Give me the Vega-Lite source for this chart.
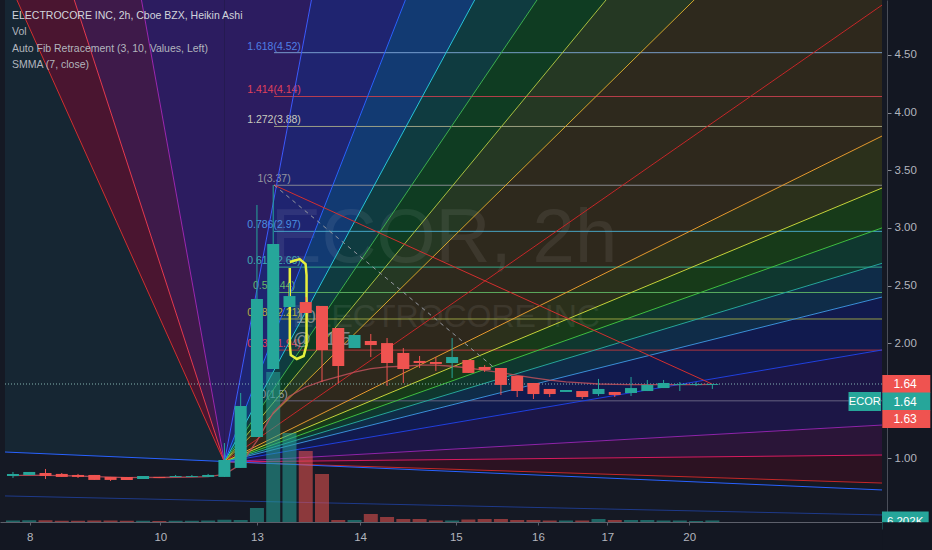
{
  "$schema": "https://vega.github.io/schema/vega-lite/v6.json",
  "width": 887,
  "height": 522,
  "autosize": {"type": "none"},
  "padding": {"left": 0, "top": 0, "right": 45, "bottom": 28},
  "background": "#131722",
  "config": {"view": {"stroke": null, "fill": "#151924"}, "font": "Liberation Sans, Arial, sans-serif"},
  "datasets": {
    "candles": [
      {"n":0,"o":0.848,"c":0.866,"h":0.883,"l":0.831,"v":6000,"s":0.852},
      {"n":1,"o":0.857,"c":0.883,"h":0.883,"l":0.857,"v":7000,"s":0.855},
      {"n":2,"o":0.874,"c":0.848,"h":0.909,"l":0.822,"v":7000,"s":0.854},
      {"n":3,"o":0.866,"c":0.840,"h":0.874,"l":0.840,"v":5000,"s":0.851},
      {"n":4,"o":0.857,"c":0.840,"h":0.866,"l":0.831,"v":5000,"s":0.848},
      {"n":5,"o":0.857,"c":0.814,"h":0.857,"l":0.814,"v":6000,"s":0.842},
      {"n":6,"o":0.840,"c":0.814,"h":0.840,"l":0.805,"v":6000,"s":0.838},
      {"n":7,"o":0.840,"c":0.814,"h":0.840,"l":0.814,"v":5000,"s":0.834},
      {"n":8,"o":0.822,"c":0.848,"h":0.848,"l":0.822,"v":5000,"s":0.836},
      {"n":9,"o":0.840,"c":0.831,"h":0.840,"l":0.831,"v":4000,"s":0.835},
      {"n":10,"o":0.840,"c":0.848,"h":0.857,"l":0.840,"v":5000,"s":0.837},
      {"n":11,"o":0.840,"c":0.848,"h":0.857,"l":0.840,"v":5000,"s":0.839},
      {"n":12,"o":0.840,"c":0.857,"h":0.866,"l":0.840,"v":6000,"s":0.842},
      {"n":13,"o":0.840,"c":0.987,"h":1.134,"l":0.840,"v":9000,"s":0.863},
      {"n":14,"o":0.918,"c":1.455,"h":1.568,"l":0.918,"v":8000,"s":0.948},
      {"n":15,"o":1.186,"c":2.383,"h":3.199,"l":1.186,"v":56000,"s":1.153},
      {"n":16,"o":1.776,"c":2.860,"h":3.372,"l":1.776,"v":600000,"s":1.397},
      {"n":17,"o":2.314,"c":2.409,"h":2.522,"l":2.314,"v":356000,"s":1.54},
      {"n":18,"o":2.357,"c":2.262,"h":2.40,"l":2.262,"v":284000,"s":1.62},
      {"n":19,"o":2.323,"c":1.941,"h":2.323,"l":1.663,"v":192000,"s":1.67},
      {"n":20,"o":2.132,"c":1.802,"h":2.132,"l":1.655,"v":8000,"s":1.71},
      {"n":21,"o":1.958,"c":2.071,"h":2.071,"l":1.958,"v":8000,"s":1.75},
      {"n":22,"o":2.019,"c":1.984,"h":2.080,"l":1.880,"v":32000,"s":1.78},
      {"n":23,"o":2.001,"c":1.828,"h":2.045,"l":1.629,"v":20000,"s":1.795},
      {"n":24,"o":1.915,"c":1.776,"h":1.958,"l":1.655,"v":12000,"s":1.80},
      {"n":25,"o":1.846,"c":1.828,"h":1.889,"l":1.785,"v":12000,"s":1.81},
      {"n":26,"o":1.837,"c":1.820,"h":1.880,"l":1.759,"v":6000,"s":1.81},
      {"n":27,"o":1.828,"c":1.880,"h":2.045,"l":1.698,"v":6000,"s":1.80},
      {"n":28,"o":1.854,"c":1.742,"h":1.854,"l":1.742,"v":10000,"s":1.785},
      {"n":29,"o":1.794,"c":1.768,"h":1.81,"l":1.75,"v":12000,"s":1.765},
      {"n":30,"o":1.785,"c":1.638,"h":1.785,"l":1.551,"v":12000,"s":1.745},
      {"n":31,"o":1.716,"c":1.585,"h":1.716,"l":1.533,"v":8000,"s":1.72},
      {"n":32,"o":1.655,"c":1.559,"h":1.655,"l":1.516,"v":8000,"s":1.70},
      {"n":33,"o":1.603,"c":1.559,"h":1.603,"l":1.533,"v":6000,"s":1.68},
      {"n":34,"o":1.577,"c":1.594,"h":1.594,"l":1.577,"v":6000,"s":1.665},
      {"n":35,"o":1.585,"c":1.533,"h":1.585,"l":1.516,"v":6000,"s":1.655},
      {"n":36,"o":1.559,"c":1.603,"h":1.690,"l":1.542,"v":12000,"s":1.646},
      {"n":37,"o":1.577,"c":1.551,"h":1.577,"l":1.533,"v":8000,"s":1.642},
      {"n":38,"o":1.568,"c":1.611,"h":1.707,"l":1.542,"v":8000,"s":1.64},
      {"n":39,"o":1.585,"c":1.638,"h":1.681,"l":1.585,"v":8000,"s":1.64},
      {"n":40,"o":1.611,"c":1.655,"h":1.681,"l":1.611,"v":6000,"s":1.64},
      {"n":41,"o":1.638,"c":1.646,"h":1.663,"l":1.585,"v":6000,"s":1.641},
      {"n":42,"o":1.638,"c":1.646,"h":1.663,"l":1.629,"v":4000,"s":1.641},
      {"n":43,"o":1.638,"c":1.646,"h":1.646,"l":1.603,"v":6202,"s":1.642}
    ],
    "wedge": [
      {"w":"w01","n":13,"lo":0.97,"hi":40},{"w":"w01","n":53.43,"lo":31.25,"hi":40},
      {"w":"w01b","n":-0.49,"lo":11.57,"hi":40},{"w":"w01b","n":13,"lo":0.97,"hi":40},
      {"w":"w02","n":13,"lo":0.97,"hi":0.97},{"w":"w02","n":53.43,"lo":15.53,"hi":31.25},
      {"w":"w03","n":13,"lo":0.97,"hi":0.97},{"w":"w03","n":53.43,"lo":11.50,"hi":15.53},
      {"w":"w04","n":13,"lo":0.97,"hi":0.97},{"w":"w04","n":53.43,"lo":9.40,"hi":11.50},
      {"w":"w05","n":13,"lo":0.97,"hi":0.97},{"w":"w05","n":53.43,"lo":7.875,"hi":9.40},
      {"w":"w06","n":13,"lo":0.97,"hi":0.97},{"w":"w06","n":53.43,"lo":6.58,"hi":7.875},
      {"w":"w07","n":13,"lo":0.97,"hi":0.97},{"w":"w07","n":53.43,"lo":4.933,"hi":6.58},
      {"w":"w08","n":13,"lo":0.97,"hi":0.97},{"w":"w08","n":53.43,"lo":3.797,"hi":4.933},
      {"w":"w09","n":13,"lo":0.97,"hi":0.97},{"w":"w09","n":53.43,"lo":3.346,"hi":3.797},
      {"w":"w10","n":13,"lo":0.97,"hi":0.97},{"w":"w10","n":53.43,"lo":3.0,"hi":3.346},
      {"w":"w11","n":13,"lo":0.97,"hi":0.97},{"w":"w11","n":53.43,"lo":2.693,"hi":3.0},
      {"w":"w12","n":13,"lo":0.97,"hi":0.97},{"w":"w12","n":53.43,"lo":2.40,"hi":2.693},
      {"w":"w13","n":13,"lo":0.97,"hi":0.97},{"w":"w13","n":53.43,"lo":1.941,"hi":2.40},
      {"w":"w14","n":13,"lo":0.97,"hi":0.97},{"w":"w14","n":53.43,"lo":1.29,"hi":1.941},
      {"w":"w15","n":13,"lo":0.97,"hi":0.97},{"w":"w15","n":53.43,"lo":1.03,"hi":1.29},
      {"w":"w16","n":13,"lo":0.97,"hi":0.97},{"w":"w16","n":53.43,"lo":0.787,"hi":1.03},
      {"w":"w17","n":-0.49,"lo":6.826,"hi":11.57},{"w":"w17","n":13,"lo":0.97,"hi":0.97},
      {"w":"w18","n":-0.49,"lo":5.207,"hi":6.826},{"w":"w18","n":13,"lo":0.97,"hi":0.97},
      {"w":"w19","n":-0.49,"lo":1.056,"hi":5.207},{"w":"w19","n":13,"lo":0.97,"hi":0.97}
    ],
    "fan": [
      {"id":"s01","a":13,"pa":0.97,"b":53.43,"pb":31.25},
      {"id":"s02","a":13,"pa":0.97,"b":53.43,"pb":15.53},
      {"id":"s03","a":13,"pa":0.97,"b":53.43,"pb":11.50},
      {"id":"s04","a":13,"pa":0.97,"b":53.43,"pb":9.40},
      {"id":"s05","a":13,"pa":0.97,"b":53.43,"pb":7.875},
      {"id":"s06","a":13,"pa":0.97,"b":53.43,"pb":6.58},
      {"id":"s07","a":13,"pa":0.97,"b":53.43,"pb":4.933},
      {"id":"s08","a":13,"pa":0.97,"b":53.43,"pb":3.797},
      {"id":"s09","a":13,"pa":0.97,"b":53.43,"pb":3.346},
      {"id":"s10","a":13,"pa":0.97,"b":53.43,"pb":3.0},
      {"id":"s11","a":13,"pa":0.97,"b":53.43,"pb":2.693},
      {"id":"s12","a":13,"pa":0.97,"b":53.43,"pb":2.40},
      {"id":"s13","a":13,"pa":0.97,"b":53.43,"pb":1.941},
      {"id":"s14","a":13,"pa":0.97,"b":53.43,"pb":1.29},
      {"id":"s15","a":13,"pa":0.97,"b":53.43,"pb":1.03},
      {"id":"s16","a":13,"pa":0.97,"b":53.43,"pb":0.787},
      {"id":"l1","a":13,"pa":0.97,"b":-0.49,"pb":5.207},
      {"id":"l2","a":13,"pa":0.97,"b":-0.49,"pb":6.826},
      {"id":"l3","a":13,"pa":0.97,"b":-0.49,"pb":11.57},
      {"id":"r1","a":16.05,"pa":3.372,"b":42.98,"pb":1.646},
      {"id":"t1","a":-0.49,"pa":1.056,"b":53.43,"pb":0.727},
      {"id":"t2","a":-0.49,"pa":0.675,"b":53.43,"pb":0.51}
    ],
    "fib": [
      {"k":"1.618","p":4.52,"t":"1.618(4.52)"},
      {"k":"1.414","p":4.14,"t":"1.414(4.14)"},
      {"k":"1.272","p":3.88,"t":"1.272(3.88)"},
      {"k":"1","p":3.37,"t":"1(3.37)"},
      {"k":"0.786","p":2.97,"t":"0.786(2.97)"},
      {"k":"0.618","p":2.66,"t":"0.618(2.66)"},
      {"k":"0.5","p":2.44,"t":"0.5(2.44)"},
      {"k":"0.382","p":2.21,"t":"0.382(2.21)"},
      {"k":"0.236","p":1.94,"t":"0.236(1.94)"},
      {"k":"0","p":1.5,"t":"0(1.5)"}
    ],
    "loop": [
      {"i":0,"n":17.02,"p":2.704},{"i":1,"n":17.63,"p":2.730},{"i":2,"n":17.99,"p":2.687},
      {"i":3,"n":18.05,"p":2.591},{"i":4,"n":18.05,"p":1.984},{"i":5,"n":17.87,"p":1.889},
      {"i":6,"n":17.45,"p":1.863},{"i":7,"n":17.08,"p":1.898},{"i":8,"n":17.02,"p":1.984},
      {"i":9,"n":17.02,"p":2.652}
    ],
    "tags": [
      {"t":"1.64","p":1.646,"s":"a"},
      {"t":"1.64","p":1.646,"s":"b"},
      {"t":"1.63","p":1.634,"s":"c"},
      {"t":"ECOR","p":1.646,"s":"d"}
    ],
    "leg": [
      {"t":"ELECTROCORE INC, 2h, Cboe BZX, Heikin Ashi","p":4.838,"r":1},
      {"t":"Vol","p":4.699,"r":2},
      {"t":"Auto Fib Retracement (3, 10, Values, Left)","p":4.552,"r":3},
      {"t":"SMMA (7, close)","p":4.413,"r":4}
    ]
  },
  "resolve": {"scale": {"y": "independent"}},
  "layer": [
    {
      "resolve": {"scale": {"color": "independent"}},
      "layer": [
        {
          "data": {"name": "wedge"},
          "mark": {"type": "area", "clip": true, "interpolate": "linear"},
          "encoding": {
            "x": {"field": "n", "type": "quantitative", "scale": {"domain": [-0.49, 53.43], "nice": false, "zero": false},
              "axis": {"values": [1.03, 9.06, 15, 21.34, 27.23, 32.28, 36.54, 41.58],
                "labelExpr": "datum.value < 5 ? '8' : datum.value < 12 ? '10' : datum.value < 18 ? '13' : datum.value < 24 ? '14' : datum.value < 30 ? '15' : datum.value < 34 ? '16' : datum.value < 39 ? '17' : '20'",
                "title": null, "grid": false, "domainColor": "#5d606b", "tickColor": "#5d606b", "tickSize": 3,
                "labelColor": "#b2b5be", "labelFontSize": 11.5, "labelPadding": 6, "labelFlush": false, "labelOverlap": false}},
            "y": {"field": "lo", "type": "quantitative", "stack": null, "scale": {"domain": [0.449, 4.977], "nice": false, "zero": false},
              "axis": {"orient": "right", "values": [0.5, 1, 2, 2.5, 3, 3.5, 4, 4.5], "format": ".2f", "title": null, "grid": false,
                "domainColor": "#4a4e59", "tickColor": "#8a8d96", "tickSize": 4, "labelColor": "#b2b5be", "labelFontSize": 11.5,
                "labelPadding": 3, "labelFlush": false, "labelOverlap": false}},
            "y2": {"field": "hi"},
            "color": {"field": "w", "type": "nominal", "legend": null,
              "scale": {"domain": ["w01","w01b","w02","w03","w04","w05","w06","w07","w08","w09","w10","w11","w12","w13","w14","w15","w16","w17","w18","w19"],
                "range": ["#2c1c60","#2c1c60","#1f2470","#123a72","#0f3b40","#0f3c22","#253823","#2e291d","#2e281c","#2b301b","#173a19","#0f372f","#0f2c48","#111a4e","#1c1646","#2a1538","#2c1222","#3e1a4a","#4a1530","#162633"]}}
          }
        },
        {
          "data": {"values": [{"t": "ECOR, 2h", "n": 26.5, "p": 2.705}]},
          "mark": {"type": "text", "fontSize": 76, "align": "center", "baseline": "alphabetic", "color": "#ffffff", "opacity": 0.07},
          "encoding": {
            "x": {"field": "n", "type": "quantitative", "scale": {"domain": [-0.49, 53.43], "nice": false, "zero": false}},
            "y": {"field": "p", "type": "quantitative", "scale": {"domain": [0.449, 4.977], "nice": false, "zero": false}},
            "text": {"field": "t"}
          }
        },
        {
          "data": {"values": [{"t": "ELECTROCORE INC", "n": 26.63, "p": 2.141}]},
          "mark": {"type": "text", "fontSize": 32, "align": "center", "baseline": "alphabetic", "color": "#ffffff", "opacity": 0.07},
          "encoding": {
            "x": {"field": "n", "type": "quantitative", "scale": {"domain": [-0.49, 53.43], "nice": false, "zero": false}},
            "y": {"field": "p", "type": "quantitative", "scale": {"domain": [0.449, 4.977], "nice": false, "zero": false}},
            "text": {"field": "t"}
          }
        },
        {
          "data": {"name": "fib"},
          "mark": {"type": "rule", "strokeWidth": 1, "opacity": 0.9},
          "encoding": {
            "x": {"datum": 16.05, "type": "quantitative", "scale": {"domain": [-0.49, 53.43], "nice": false, "zero": false}},
            "x2": {"datum": 53.43},
            "y": {"field": "p", "type": "quantitative", "scale": {"domain": [0.449, 4.977], "nice": false, "zero": false}},
            "color": {"field": "k", "type": "nominal", "legend": null,
              "scale": {"domain": ["1.618","1.414","1.272","1","0.786","0.618","0.5","0.382","0.236","0"],
                "range": ["#7fa8d8","#c8404e","#a8ab8a","#8f9097","#4aaed0","#36b592","#62b865","#a3ac45","#c0383c","#6e6a88"]}}
          }
        },
        {
          "data": {"name": "fib"},
          "mark": {"type": "text", "fontSize": 10.5, "align": "center", "baseline": "alphabetic", "dy": -3},
          "encoding": {
            "x": {"datum": 16.05, "type": "quantitative", "scale": {"domain": [-0.49, 53.43], "nice": false, "zero": false}},
            "y": {"field": "p", "type": "quantitative", "scale": {"domain": [0.449, 4.977], "nice": false, "zero": false}},
            "text": {"field": "t"},
            "color": {"field": "k", "type": "nominal", "legend": null,
              "scale": {"domain": ["1.618","1.414","1.272","1","0.786","0.618","0.5","0.382","0.236","0"],
                "range": ["#4f7fe6","#e0405a","#c9cbbf","#9598a1","#4a8fe0","#3fa9b5","#66bb6a","#b5b040","#e0405a","#9598a1"]}}
          }
        },
        {
          "data": {"name": "fan"},
          "mark": {"type": "rule", "clip": true, "strokeWidth": 1},
          "encoding": {
            "x": {"field": "a", "type": "quantitative", "scale": {"domain": [-0.49, 53.43], "nice": false, "zero": false}},
            "x2": {"field": "b"},
            "y": {"field": "pa", "type": "quantitative", "scale": {"domain": [0.449, 4.977], "nice": false, "zero": false}},
            "y2": {"field": "pb"},
            "color": {"field": "id", "type": "nominal", "legend": null,
              "scale": {"domain": ["s01","s02","s03","s04","s05","s06","s07","s08","s09","s10","s11","s12","s13","s14","s15","s16","l1","l2","l3","r1","t1","t2"],
                "range": ["#3d5afe","#2962ff","#26c6da","#3cb050","#a8c040","#d4a72c","#c62828","#e69a2e","#c6d43a","#3fbf3f","#26a69a","#3a8fd8","#2040e0","#8e24aa","#d81b60","#c62828","#d32f2f","#e53950","#9c27b0","#d32f2f","#2962ff","#1e3a8a"]}}
          }
        },
        {
          "data": {"values": [{"a": 16.05, "pa": 3.372, "b": 30.5, "pb": 1.681}]},
          "mark": {"type": "rule", "clip": true, "strokeWidth": 1, "strokeDash": [4, 4], "color": "#9598a1"},
          "encoding": {
            "x": {"field": "a", "type": "quantitative", "scale": {"domain": [-0.49, 53.43], "nice": false, "zero": false}},
            "x2": {"field": "b"},
            "y": {"field": "pa", "type": "quantitative", "scale": {"domain": [0.449, 4.977], "nice": false, "zero": false}},
            "y2": {"field": "pb"}
          }
        }
      ]
    },
    {
      "layer": [
        {
          "data": {"name": "candles"},
          "mark": {"type": "bar", "size": 14, "opacity": 0.55},
          "encoding": {
            "x": {"field": "n", "type": "quantitative", "scale": {"domain": [-0.49, 53.43], "nice": false, "zero": false}},
            "y": {"field": "v", "type": "quantitative", "scale": {"domain": [0, 2088000], "nice": false, "zero": true}, "axis": null},
            "y2": {"datum": 0},
            "color": {"condition": {"test": "datum.c >= datum.o", "value": "#26a69a"}, "value": "#ef5350"}
          }
        },
        {
          "data": {"values": [{"t": "6.202K", "v": 6202}]},
          "mark": {"type": "rule", "clip": false, "strokeWidth": 18, "color": "#26a69a"},
          "encoding": {
            "x": {"datum": 53.43, "type": "quantitative", "scale": {"domain": [-0.49, 53.43], "nice": false, "zero": false}},
            "x2": {"datum": 56.3},
            "y": {"field": "v", "type": "quantitative", "scale": {"domain": [0, 2088000], "nice": false, "zero": true}, "axis": null}
          }
        },
        {
          "data": {"values": [{"t": "6.202K", "v": 6202}]},
          "mark": {"type": "text", "clip": false, "fontSize": 11.5, "align": "center", "baseline": "middle", "color": "#ffffff", "dy": 2},
          "encoding": {
            "x": {"datum": 54.85, "type": "quantitative", "scale": {"domain": [-0.49, 53.43], "nice": false, "zero": false}},
            "y": {"field": "v", "type": "quantitative", "scale": {"domain": [0, 2088000], "nice": false, "zero": true}, "axis": null},
            "text": {"field": "t"}
          }
        }
      ]
    },
    {
      "resolve": {"scale": {"color": "independent"}},
      "layer": [
        {
          "data": {"values": [{"p": 0.3}]},
          "mark": {"type": "rule", "clip": false, "strokeWidth": 34, "color": "#131722"},
          "encoding": {
            "x": {"datum": 53.45, "type": "quantitative", "scale": {"domain": [-0.49, 53.43], "nice": false, "zero": false}},
            "x2": {"datum": 56.4},
            "y": {"field": "p", "type": "quantitative", "scale": {"domain": [0.449, 4.977], "nice": false, "zero": false}, "axis": null}
          }
        },
        {
          "data": {"values": [{"p": 1.646}]},
          "mark": {"type": "rule", "strokeDash": [1, 2], "color": "#a0d8cf", "opacity": 0.8},
          "encoding": {
            "x": {"datum": -0.49, "type": "quantitative", "scale": {"domain": [-0.49, 53.43], "nice": false, "zero": false}},
            "x2": {"datum": 53.43},
            "y": {"field": "p", "type": "quantitative", "scale": {"domain": [0.449, 4.977], "nice": false, "zero": false}, "axis": null}
          }
        },
        {
          "data": {"name": "candles"},
          "mark": {"type": "line", "color": "#c0505a", "strokeWidth": 1.3, "opacity": 0.85},
          "encoding": {
            "x": {"field": "n", "type": "quantitative", "scale": {"domain": [-0.49, 53.43], "nice": false, "zero": false}},
            "y": {"field": "s", "type": "quantitative", "scale": {"domain": [0.449, 4.977], "nice": false, "zero": false}, "axis": null}
          }
        },
        {
          "data": {"values": [{"t": "100", "n": 17.39, "p": 2.175}, {"t": "@ $1.5", "n": 17.2, "p": 1.984}]},
          "mark": {"type": "text", "fontSize": 18, "align": "left", "baseline": "alphabetic", "color": "#a0a3aa", "opacity": 0.75},
          "encoding": {
            "x": {"field": "n", "type": "quantitative", "scale": {"domain": [-0.49, 53.43], "nice": false, "zero": false}},
            "y": {"field": "p", "type": "quantitative", "scale": {"domain": [0.449, 4.977], "nice": false, "zero": false}, "axis": null},
            "text": {"field": "t"}
          }
        },
        {
          "data": {"name": "loop"},
          "mark": {"type": "line", "color": "#e6f03c", "strokeWidth": 2.5, "interpolate": "linear"},
          "encoding": {
            "x": {"field": "n", "type": "quantitative", "scale": {"domain": [-0.49, 53.43], "nice": false, "zero": false}},
            "y": {"field": "p", "type": "quantitative", "scale": {"domain": [0.449, 4.977], "nice": false, "zero": false}, "axis": null},
            "order": {"field": "i", "type": "quantitative"}
          }
        },
        {
          "data": {"name": "candles"},
          "mark": {"type": "rule", "strokeWidth": 1},
          "encoding": {
            "x": {"field": "n", "type": "quantitative", "scale": {"domain": [-0.49, 53.43], "nice": false, "zero": false}},
            "y": {"field": "l", "type": "quantitative", "scale": {"domain": [0.449, 4.977], "nice": false, "zero": false}, "axis": null},
            "y2": {"field": "h"},
            "color": {"condition": {"test": "datum.c >= datum.o", "value": "#26a69a"}, "value": "#ef5350"}
          }
        },
        {
          "data": {"name": "candles"},
          "mark": {"type": "bar", "size": 12},
          "encoding": {
            "x": {"field": "n", "type": "quantitative", "scale": {"domain": [-0.49, 53.43], "nice": false, "zero": false}},
            "y": {"field": "o", "type": "quantitative", "scale": {"domain": [0.449, 4.977], "nice": false, "zero": false}, "axis": null},
            "y2": {"field": "c"},
            "color": {"condition": {"test": "datum.c >= datum.o", "value": "#26a69a"}, "value": "#ef5350"}
          }
        },
        {
          "data": {"name": "tags"},
          "transform": [{"filter": "datum.s == 'a'"}],
          "layer": [
            {"mark": {"type": "rule", "clip": false, "strokeWidth": 18, "color": "#ef5350"},
             "encoding": {"x": {"datum": 53.45, "type": "quantitative", "scale": {"domain": [-0.49, 53.43], "nice": false, "zero": false}}, "x2": {"datum": 56.4},
               "y": {"field": "p", "type": "quantitative", "scale": {"domain": [0.449, 4.977], "nice": false, "zero": false}, "axis": null}}},
            {"mark": {"type": "text", "clip": false, "fontSize": 12, "align": "center", "baseline": "middle", "color": "#ffffff"},
             "encoding": {"x": {"datum": 54.85, "type": "quantitative", "scale": {"domain": [-0.49, 53.43], "nice": false, "zero": false}},
               "y": {"field": "p", "type": "quantitative", "scale": {"domain": [0.449, 4.977], "nice": false, "zero": false}, "axis": null}, "text": {"field": "t"}}}
          ]
        },
        {
          "data": {"name": "tags"},
          "transform": [{"filter": "datum.s == 'b'"}],
          "layer": [
            {"mark": {"type": "rule", "clip": false, "strokeWidth": 18, "color": "#26a69a", "yOffset": 17.5},
             "encoding": {"x": {"datum": 53.45, "type": "quantitative", "scale": {"domain": [-0.49, 53.43], "nice": false, "zero": false}}, "x2": {"datum": 56.4},
               "y": {"field": "p", "type": "quantitative", "scale": {"domain": [0.449, 4.977], "nice": false, "zero": false}, "axis": null}}},
            {"mark": {"type": "text", "clip": false, "fontSize": 12, "align": "center", "baseline": "middle", "color": "#ffffff", "yOffset": 17.5},
             "encoding": {"x": {"datum": 54.85, "type": "quantitative", "scale": {"domain": [-0.49, 53.43], "nice": false, "zero": false}},
               "y": {"field": "p", "type": "quantitative", "scale": {"domain": [0.449, 4.977], "nice": false, "zero": false}, "axis": null}, "text": {"field": "t"}}}
          ]
        },
        {
          "data": {"name": "tags"},
          "transform": [{"filter": "datum.s == 'c'"}],
          "layer": [
            {"mark": {"type": "rule", "clip": false, "strokeWidth": 18, "color": "#ef5350", "yOffset": 33.5},
             "encoding": {"x": {"datum": 53.45, "type": "quantitative", "scale": {"domain": [-0.49, 53.43], "nice": false, "zero": false}}, "x2": {"datum": 56.4},
               "y": {"field": "p", "type": "quantitative", "scale": {"domain": [0.449, 4.977], "nice": false, "zero": false}, "axis": null}}},
            {"mark": {"type": "text", "clip": false, "fontSize": 12, "align": "center", "baseline": "middle", "color": "#ffffff", "yOffset": 33.5},
             "encoding": {"x": {"datum": 54.85, "type": "quantitative", "scale": {"domain": [-0.49, 53.43], "nice": false, "zero": false}},
               "y": {"field": "p", "type": "quantitative", "scale": {"domain": [0.449, 4.977], "nice": false, "zero": false}, "axis": null}, "text": {"field": "t"}}}
          ]
        },
        {
          "data": {"name": "tags"},
          "transform": [{"filter": "datum.s == 'd'"}],
          "layer": [
            {"mark": {"type": "rule", "clip": false, "strokeWidth": 19, "color": "#26a69a", "yOffset": 17.5},
             "encoding": {"x": {"datum": 51.37, "type": "quantitative", "scale": {"domain": [-0.49, 53.43], "nice": false, "zero": false}}, "x2": {"datum": 53.37},
               "y": {"field": "p", "type": "quantitative", "scale": {"domain": [0.449, 4.977], "nice": false, "zero": false}, "axis": null}}},
            {"mark": {"type": "text", "clip": false, "fontSize": 11, "align": "center", "baseline": "middle", "color": "#ffffff", "yOffset": 17.5},
             "encoding": {"x": {"datum": 52.37, "type": "quantitative", "scale": {"domain": [-0.49, 53.43], "nice": false, "zero": false}},
               "y": {"field": "p", "type": "quantitative", "scale": {"domain": [0.449, 4.977], "nice": false, "zero": false}, "axis": null}, "text": {"field": "t"}}}
          ]
        },
        {
          "data": {"name": "leg"},
          "mark": {"type": "text", "fontSize": 10.5, "align": "left", "baseline": "middle"},
          "encoding": {
            "x": {"datum": -0.06, "type": "quantitative", "scale": {"domain": [-0.49, 53.43], "nice": false, "zero": false}},
            "y": {"field": "p", "type": "quantitative", "scale": {"domain": [0.449, 4.977], "nice": false, "zero": false}, "axis": null},
            "text": {"field": "t"},
            "color": {"condition": {"test": "datum.r == 1", "value": "#d1d4dc"}, "value": "#b2b5be"}
          }
        }
      ]
    }
  ]
}
